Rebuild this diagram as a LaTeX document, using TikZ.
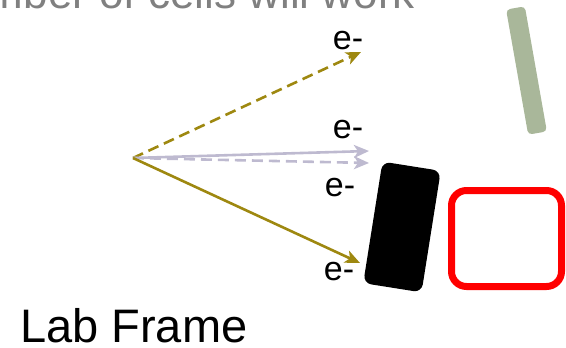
\documentclass[tikz,border=0pt]{standalone}
\usepackage{fontspec}
\setmainfont{Liberation Sans}
\usetikzlibrary{arrows.meta}
\definecolor{trackolive}{RGB}{158,136,16}
\definecolor{trackgrey}{RGB}{190,186,208}
\definecolor{shieldgreen}{RGB}{169,183,154}
\definecolor{titlegrey}{RGB}{128,128,128}

\begin{document}
\begin{tikzpicture}[x=1pt,y=-1pt,
  track/.style={line width=2.6pt, -{Stealth[length=15pt,width=13pt,inset=4pt]}},
  dashtrack/.style={track, dash pattern=on 11pt off 6pt},
  elabel/.style={font=\fontsize{34}{36}\selectfont, inner sep=0pt}]
\clip (0,0) rectangle (566,348);
\node[anchor=base east, inner sep=0pt, text=titlegrey, font=\fontsize{44}{48}\selectfont] (title) at (415,8.5) {number of cells will work};
\node[anchor=base west, inner sep=0pt, font=\fontsize{47}{50}\selectfont] (frame) at (20,342.5) {Lab Frame};
% detectors
\node[fill=shieldgreen, rounded corners=4pt, minimum width=19pt, minimum height=127pt, rotate=10] (shield) at (526.5,70.5) {};
\node[fill=black, rounded corners=8pt, minimum width=59pt, minimum height=123pt, rotate=-9] (cell) at (402,227) {};
\node[draw=red, line width=7pt, rounded corners=15pt, minimum width=110pt, minimum height=96pt] (box) at (506.5,238.5) {};
% electron tracks
\coordinate (vtx) at (133,158);
\coordinate (up) at (361,52);
\coordinate (mid) at (369,151);
\coordinate (midd) at (369,163);
\coordinate (low) at (360,263);
\draw[dashtrack, trackolive] (vtx) -- (up);
\draw[track, trackgrey] (vtx) -- (mid);
\draw[dashtrack, trackgrey] (vtx) -- (midd);
\draw[track, trackolive] (vtx) -- (low);
\node[elabel] (eup) at (348,41) {e-};
\node[elabel] (emid) at (348,130) {e-};
\node[elabel] (emidd) at (340,188) {e-};
\node[elabel] (elow) at (339,272) {e-};
\end{tikzpicture}
\end{document}
